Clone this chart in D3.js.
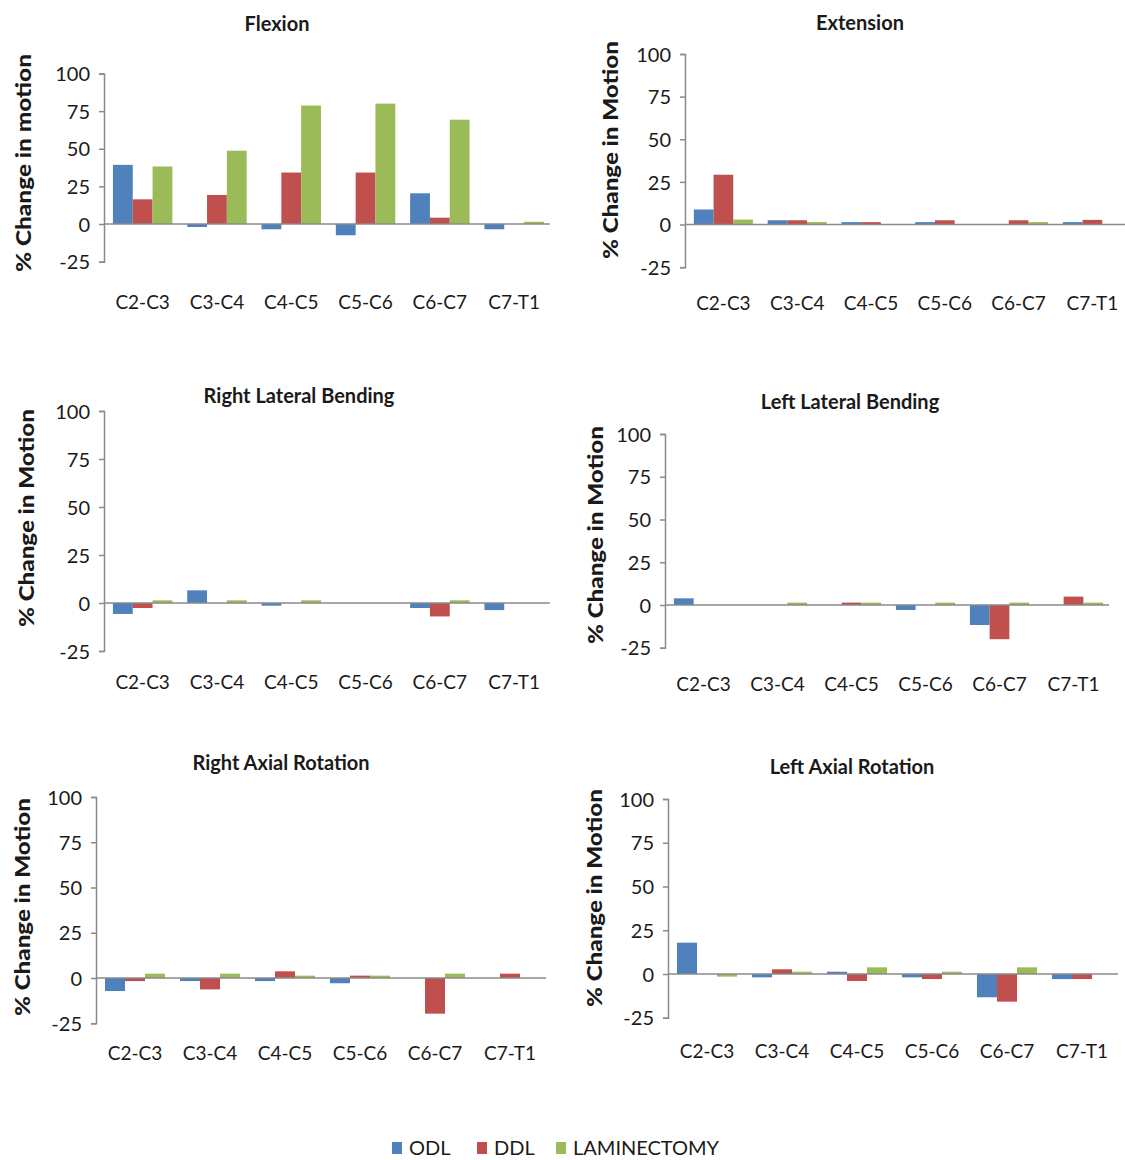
<!DOCTYPE html>
<html>
<head>
<meta charset="utf-8">
<script src="https://cdn.jsdelivr.net/npm/d3@7"></script>
<style>
  html, body { margin: 0; padding: 0; background: #fff; }
  svg { display: block; }
  text { font-family: Lato, "Open Sans", sans-serif; fill: #1a1a1a; }
</style>
</head>
<body>
<svg id="chart" width="1125" height="1160"></svg>
<script>
// ---------- DATA ----------
const categories = ["C2-C3", "C3-C4", "C4-C5", "C5-C6", "C6-C7", "C7-T1"];
const seriesNames = ["ODL", "DDL", "LAMINECTOMY"];
const yTicks = [-25, 0, 25, 50, 75, 100];

const panelTitles = ["Flexion", "Extension", "Right  Lateral Bending", "Left Lateral Bending", "Right  Axial Rotation", "Left Axial  Rotation"];
const yTitles = ["% Change in motion", "% Change in Motion", "% Change in Motion", "% Change in Motion", "% Change in Motion", "% Change in Motion"];

const flexionODL = [39.3, -2, -3.5, -7.5, 20.4, -3.5];
const flexionDDL = [16.4, 19.3, 34.2, 34.2, 4.2, 0];
const flexionLAM = [38.2, 48.7, 78.7, 80, 69.3, 1.5];

const extensionODL = [8.8, 2.5, 1.4, 1.4, 0, 1.4];
const extensionDDL = [29.2, 2.5, 1.4, 2.5, 2.5, 2.7];
const extensionLAM = [2.9, 1.4, 0, 0, 1.4, 0];

const rightLatODL = [-5.7, 6.6, -1.4, 0, -2.6, -3.7];
const rightLatDDL = [-2.6, 0, 0, 0, -7, 0];
const rightLatLAM = [1.4, 1.4, 1.4, 0, 1.4, 0];

const leftLatODL = [3.9, 0, 0, -2.9, -11.7, 0];
const leftLatDDL = [0, 0, 1.4, 0, -20, 4.9];
const leftLatLAM = [0, 1.4, 1.4, 1.4, 1.4, 1.4];

const rightAxODL = [-7.2, -1.7, -1.7, -2.9, 0, 0];
const rightAxDDL = [-1.7, -6.3, 3.7, 1.3, -19.7, 2.4];
const rightAxLAM = [2.4, 2.4, 1.3, 1.3, 2.4, 0];

const leftAxODL = [17.9, -1.9, 1.3, -1.9, -13.3, -2.9];
const leftAxDDL = [0, 2.7, -4, -2.9, -15.8, -2.9];
const leftAxLAM = [-1.5, 1.3, 3.8, 1.3, 3.8, 0];

const colors = ["#4F81BD", "#C0504D", "#9BBB59"];

// ---------- LAYOUT ----------
const panelSeries = [
  [flexionODL, flexionDDL, flexionLAM],
  [extensionODL, extensionDDL, extensionLAM],
  [rightLatODL, rightLatDDL, rightLatLAM],
  [leftLatODL, leftLatDDL, leftLatLAM],
  [rightAxODL, rightAxDDL, rightAxLAM],
  [leftAxODL, leftAxDDL, leftAxLAM]
];
const layouts = [
  { ax: 104, y100: 73.5, y0: 224, step: 74.3, tx: 277, ty: 23, yx: 22, yy: 163, ly: 301 },
  { ax: 685, y100: 54, y0: 224.5, step: 73.8, tx: 860, ty: 22, yx: 609, yy: 150, ly: 302 },
  { ax: 104, y100: 411, y0: 603, step: 74.3, tx: 299, ty: 395, yx: 25, yy: 518, ly: 681 },
  { ax: 665, y100: 434, y0: 605, step: 74, tx: 850, ty: 401, yx: 594, yy: 535, ly: 683 },
  { ax: 96, y100: 797, y0: 978, step: 75, tx: 281, ty: 762, yx: 21, yy: 907, ly: 1052 },
  { ax: 668, y100: 799, y0: 974, step: 75, tx: 852, ty: 766, yx: 593, yy: 898, ly: 1050 }
];

const svg = d3.select("#chart");
const axisColor = "#8a8a8a";

panelSeries.forEach((series, p) => {
  const L = layouts[p];
  const yMin = L.y0 + (L.y0 - L.y100) / 4;
  const y = d3.scaleLinear().domain([-25, 100]).range([yMin, L.y100]);
  const x0 = d3.scaleBand().domain(categories)
    .range([L.ax + 1.5, L.ax + 1.5 + categories.length * L.step])
    .paddingInner(0.2).paddingOuter(0.1);
  const x1 = d3.scaleBand().domain(seriesNames).range([0, x0.bandwidth()]);

  const g = svg.append("g");

  // bars
  categories.forEach((c, i) => {
    seriesNames.forEach((s, k) => {
      const v = series[k][i];
      if (v === 0) return;
      g.append("rect")
        .attr("x", x0(c) + x1(s))
        .attr("width", x1.bandwidth())
        .attr("y", y(Math.max(0, v)))
        .attr("height", Math.abs(y(v) - y(0)))
        .attr("fill", colors[k]);
    });
  });

  // y axis
  const yAxis = d3.axisLeft(y).tickValues(yTicks).tickSize(5).tickPadding(9).tickFormat(d => String(d));
  const ya = g.append("g").attr("transform", `translate(${L.ax},0)`).call(yAxis);
  ya.select(".domain").attr("stroke", axisColor).attr("stroke-width", 1.5);
  ya.selectAll(".tick line").attr("stroke", axisColor).attr("stroke-width", 1.5);
  ya.selectAll(".tick text").style("font-size", "20px").attr("fill", "#1a1a1a").attr("dy", "0.36em");

  // zero line
  g.append("line")
    .attr("x1", L.ax).attr("x2", Math.min(1125, L.ax + categories.length * L.step))
    .attr("y1", y(0)).attr("y2", y(0))
    .attr("stroke", axisColor).attr("stroke-width", 1.5);

  // category labels
  categories.forEach(c => {
    g.append("text")
      .attr("x", x0(c) + x0.bandwidth() / 2)
      .attr("y", L.ly)
      .attr("text-anchor", "middle")
      .attr("dominant-baseline", "central")
      .style("font-size", "19px")
      .text(c);
  });

  // title
  g.append("text")
    .attr("x", L.tx).attr("y", L.ty)
    .attr("text-anchor", "middle")
    .attr("dominant-baseline", "central")
    .style("font-size", "20px").style("font-weight", "bold")
    .text(panelTitles[p]);

  // y title
  g.append("text")
    .attr("transform", `translate(${L.yx},${L.yy}) rotate(-90)`)
    .attr("text-anchor", "middle")
    .attr("dominant-baseline", "central")
    .attr("textLength", 218).attr("lengthAdjust", "spacingAndGlyphs")
    .style("font-size", "21px").style("font-weight", "900")
    .text(yTitles[p]);
});

// legend
const legendX = [392, 477, 556];
const lg = svg.append("g");
seriesNames.forEach((s, k) => {
  lg.append("rect").attr("x", legendX[k]).attr("y", 1142).attr("width", 10).attr("height", 12).attr("fill", colors[k]);
  lg.append("text").attr("x", legendX[k] + 17).attr("y", 1155)
    .style("font-size", "20px")
    .text(s);
});
</script>
</body>
</html>
